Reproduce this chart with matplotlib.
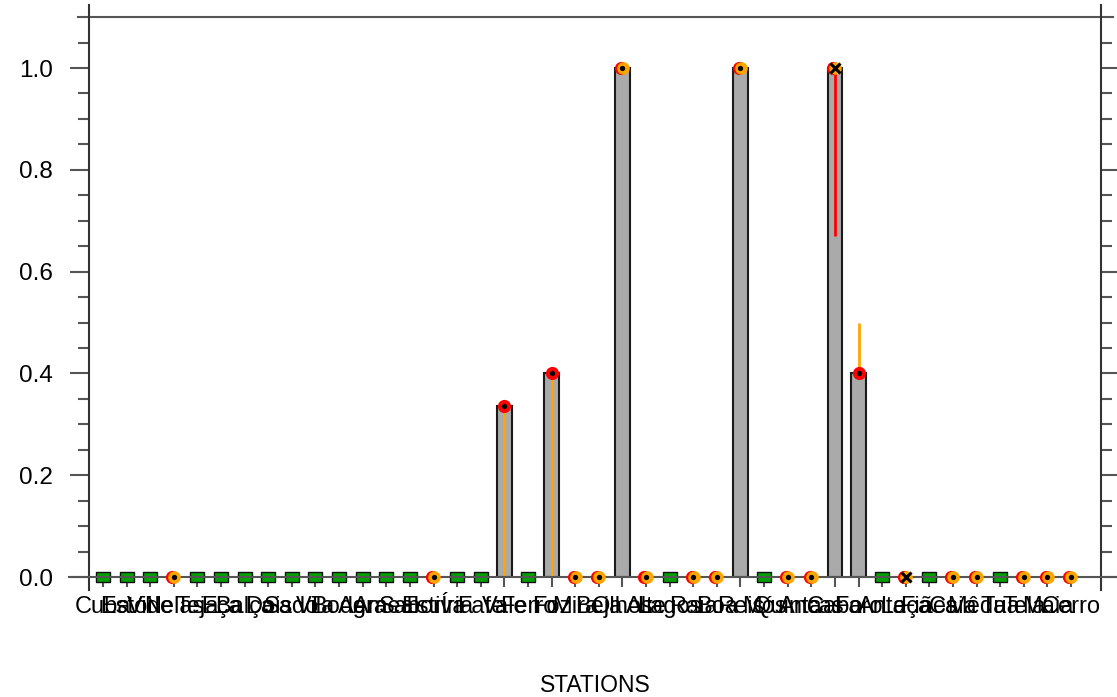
import numpy as np
import matplotlib.pyplot as plt
from matplotlib.path import Path

plt.rcParams['font.family'] = ['Liberation Sans', 'DejaVu Sans']

# station names
stations = ['Cuba', 'Estói', 'Vide', 'Nelas', 'Teja', 'Eça', 'Balça', 'Dois',
            'Sado', 'Vila', 'Bode', 'Agra', 'Ameal', 'Sabor', 'Estiva', 'Íria',
            'Fafe', 'Vale', 'Ferro', 'Foz', 'Mira', 'Beja', 'Olhos', 'Alte',
            'Lagos', 'Raia', 'Boa', 'Reis', 'Mós', 'Quinta', 'Ancas', 'Cabo',
            'Faro', 'Anta', 'Leça', 'Fiães', 'Caia', 'Mêda', 'Tua', 'Tela',
            'Maia', 'Cerro']
values = [0, 0, 0, 0, 0, 0, 0, 0, 0, 0, 0, 0, 0, 0, 0, 0, 0, 0.335, 0, 0.40,
          0, 0, 1.0, 0, 0, 0, 0, 1.0, 0, 0, 0, 1.0, 0.40, 0, 0, 0, 0, 0, 0, 0, 0, 0]
# marker type per station: g = square, o = orange circle, r = red circle, x = cross
kinds = ['g', 'g', 'g', 'o', 'g', 'g', 'g', 'g', 'g', 'g', 'g', 'g', 'g', 'g',
         'o', 'g', 'g', 'r', 'g', 'r', 'o', 'o', 'o', 'o', 'g', 'o', 'o', 'o',
         'g', 'o', 'o', 'x', 'r', 'g', 'x', 'g', 'o', 'o', 'g', 'o', 'o', 'o']
# range lines
err_idx = [17, 19, 31, 32]
err_lo = [0.0, 0.0, 0.67, 0.40]
err_hi = [0.335, 0.40, 1.0, 0.50]
err_col = ['orange', 'orange', 'red', 'orange']

x = np.arange(len(stations))
vals = np.array(values)
kinds = np.array(kinds)

fig, ax = plt.subplots(figsize=(11.17, 6.97), dpi=100)
ax.set_position([89/1117, 120/697, 1012/1117, 572/697])
ax.set_xlim(-0.593, 42.27)
ax.set_ylim(0, 1.1238)

ax.bar(x, vals, width=0.62, color='#aaaaaa', edgecolor='#1a1a1a', linewidth=1.5, zorder=2)

for i, lo, hi, c in zip(err_idx, err_lo, err_hi, err_col):
    ax.vlines(x[i], lo, hi, color=c, lw=2, zorder=3)

gc = '#555555'
# axis lines
ax.axhline(1.1, xmin=-0.011, xmax=1.012, color=gc, lw=1.5, clip_on=False, zorder=1)
ax.axhline(0, xmin=-0.02, xmax=1.016, color=gc, lw=1.5, clip_on=False, zorder=4)
for xa in (0, 1):
    ax.plot([xa, xa], [-13/572, 0], transform=ax.transAxes, color='#333333',
            lw=1.5, clip_on=False)

rect = Path([(-1, -0.7), (1, -0.7), (1, 0.7), (-1, 0.7), (-1, -0.7)])
m = kinds == 'g'
ax.plot(x[m], vals[m], ls='none', marker=rect, ms=10.5, mfc='#00a000',
        mec='#111111', mew=1, clip_on=False, zorder=3)
m = kinds == 'o'
ax.plot(x[m] - 0.07, vals[m], ls='none', marker='o', ms=9.5, mfc='red', mec='none',
        clip_on=False, zorder=5)
ax.plot(x[m] + 0.02, vals[m], ls='none', marker='o', ms=9, mfc='orange', mec='none',
        clip_on=False, zorder=6)
ax.plot(x[m], vals[m], ls='none', marker='o', ms=3.8, mfc='black', mec='none',
        clip_on=False, zorder=7)
m = kinds == 'r'
ax.plot(x[m], vals[m], ls='none', marker='o', ms=9.5, mfc='red', mec='none',
        clip_on=False, zorder=5)
ax.plot(x[m], vals[m], ls='none', marker='o', ms=3.8, mfc='black', mec='none',
        clip_on=False, zorder=7)
m = kinds == 'x'
ax.plot(x[m] - 0.07, vals[m], ls='none', marker='o', ms=9.5, mfc='red', mec='none',
        clip_on=False, zorder=5)
ax.plot(x[m] + 0.02, vals[m], ls='none', marker='o', ms=9, mfc='orange', mec='none',
        clip_on=False, zorder=6)
ax.plot(x[m], vals[m], ls='none', marker='x', ms=7, mec='black', mew=2.2,
        clip_on=False, zorder=7)

# ticks
for s in ['top', 'bottom']:
    ax.spines[s].set_visible(False)
for s in ['left', 'right']:
    ax.spines[s].set_color('#333333')
    ax.spines[s].set_linewidth(1.5)
ax.set_yticks(np.arange(0, 1.01, 0.2))
ax.set_yticks(np.arange(0.05, 1.06, 0.05), minor=True)
ax.yaxis.set_ticks_position('both')
ax.tick_params(axis='y', which='major', length=14, width=1.5, color=gc, pad=12,
               labelsize=17.5, right=True, labelright=False)
ax.tick_params(axis='y', which='minor', length=8, width=1.5, color=gc, right=True)
ax.set_yticklabels(['0.0', '0.2', '0.4', '0.6', '0.8', '1.0'])

ax.set_xticks(x)
ax.set_xticklabels(stations, fontsize=17)
ax.tick_params(axis='x', length=7, width=1.5, color=gc, pad=7)

fig.text(595/1117, 1 - 685/697, 'STATIONS', ha='center', va='center', fontsize=16.5)

fig.savefig('out.png', dpi=100)
